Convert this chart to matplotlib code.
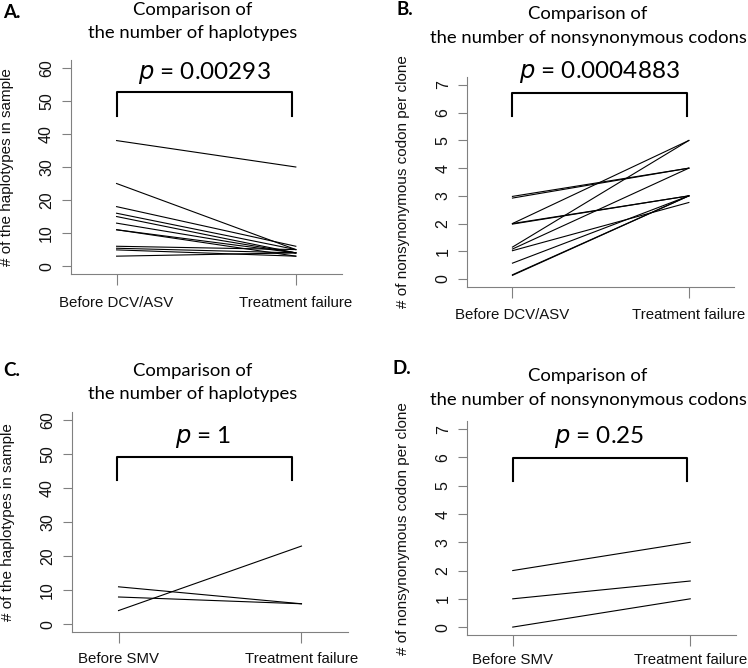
import matplotlib
matplotlib.use("Agg")
import matplotlib.pyplot as plt

W, H = 748, 668

# panel A: haplotypes, DCV/ASV
a_before = [38, 25, 18, 16, 15, 13, 11, 11, 6, 5.4, 4.9, 3]
a_after = [30, 5, 6, 5, 4, 4, 4, 3, 5, 4, 3, 4]
# panel B: nonsynonymous codons, DCV/ASV
b_before = [2.98, 2.92, 2.0, 2.0, 1.98, 1.15, 1.08, 1.02, 0.57, 0.15, 0.13]
b_after = [4, 4, 5, 3, 3, 5, 4, 2.76, 3, 3, 3]
# panel C: haplotypes, SMV
c_before = [11, 8, 4]
c_after = [6, 6, 23]
# panel D: nonsynonymous codons, SMV
d_before = [2, 1, 0]
d_after = [3, 1.63, 1]

labels_dcv = ["Before DCV/ASV", "Treatment failure"]
labels_smv = ["Before SMV", "Treatment failure"]
p_values = ["0.00293", "0.0004883", "1", "0.25"]

fig = plt.figure(figsize=(W / 100, H / 100), dpi=100)
gray = "#808080"
tfont = "Lato"
afont = "Liberation Sans"


def fx(px):
    return px / W


def fy(py):
    return 1 - py / H


def panel(box, before, after, ylim, yticks, xlabels, ylabel, bracket, ptxt, pxy, xpad=7.5):
    left, top, right, bottom = box
    ax = fig.add_axes([fx(left), fy(bottom), fx(right - left), (bottom - top) / H])
    for b, a in zip(before, after):
        ax.plot([1, 2], [b, a], color="black", lw=0.8)
    ax.set_xlim(0.744, 2.256)
    ax.set_ylim(*ylim)
    ax.set_xticks([1, 2])
    ax.set_xticklabels(xlabels, fontfamily=afont, fontsize=10.8, color="#111111")
    ax.set_yticks(yticks)
    ax.set_yticklabels([str(t) for t in yticks], rotation=90, va="center",
                       fontfamily=afont, fontsize=11.5, color="#111111")
    ax.tick_params(axis="x", length=8, width=0.8, color=gray, pad=xpad)
    ax.tick_params(axis="y", length=6.5, width=0.8, color=gray, pad=5.5)
    for s in ["top", "right"]:
        ax.spines[s].set_visible(False)
    for s in ["left", "bottom"]:
        ax.spines[s].set_color(gray)
        ax.spines[s].set_linewidth(0.8)
    ax.set_ylabel(ylabel, fontfamily=afont, fontsize=11, color="#111111")
    ax.yaxis.set_label_coords(-57.0 / (right - left), 0.5)
    x0, x1, ylo, yhi = bracket
    ax.plot([x0, x0, x1, x1], [ylo, yhi, yhi, ylo], color="black", lw=1.5,
            clip_on=False)
    fig.text(fx(pxy[0]), fy(pxy[1]), r"$\it{p}$ = " + ptxt, ha="center",
             va="baseline", fontfamily=tfont, fontsize=17.5)
    return ax


panel((70.7, 60, 341.7, 274), a_before, a_after, (-2.4, 62.4),
      [0, 10, 20, 30, 40, 50, 60], labels_dcv, "# of the haplotypes in sample",
      (1.0, 1.98, 45.5, 52.7), p_values[0], (204, 79))
panel((467.3, 77.3, 734, 286.7), b_before, b_after, (-0.28, 7.28),
      list(range(8)), labels_dcv, "# of nonsynonymous codon per clone",
      (1.0, 1.99, 5.89, 6.70), p_values[1], (599, 78))
panel((71.7, 412.3, 348.3, 632.3), c_before, c_after, (-2.4, 62.4),
      [0, 10, 20, 30, 40, 50, 60], labels_smv, "# of the haplotypes in sample",
      (0.99, 1.95, 42.5, 49.2), p_values[2], (203, 443), xpad=6.5)
panel((467.3, 421.3, 735.7, 635), d_before, d_after, (-0.28, 7.28),
      list(range(8)), labels_smv, "# of nonsynonymous codon per clone",
      (1.0, 1.98, 5.18, 5.97), p_values[3], (599, 443), xpad=5)

titles = [
    ("Comparison of", "the number of haplotypes", 193, 15, 38),
    ("Comparison of", "the number of nonsynonymous codons", 588, 19, 43),
    ("Comparison of", "the number of haplotypes", 193, 376, 398.5),
    ("Comparison of", "the number of nonsynonymous codons", 588, 381, 405),
]
for l1, l2, cx, b1, b2 in titles:
    fig.text(fx(cx), fy(b1), l1, ha="center", va="baseline",
             fontfamily=tfont, fontsize=13.3)
    fig.text(fx(cx), fy(b2), l2, ha="center", va="baseline",
             fontfamily=tfont, fontsize=13.3)

for letter, x, y in [("A.", 3, 18.3), ("B.", 396, 15), ("C.", 3, 375.7), ("D.", 392, 374)]:
    fig.text(fx(x), fy(y), letter, ha="left", va="baseline",
             fontfamily=tfont, fontweight="bold", fontsize=13.5)

fig.savefig("out.png", dpi=100)
